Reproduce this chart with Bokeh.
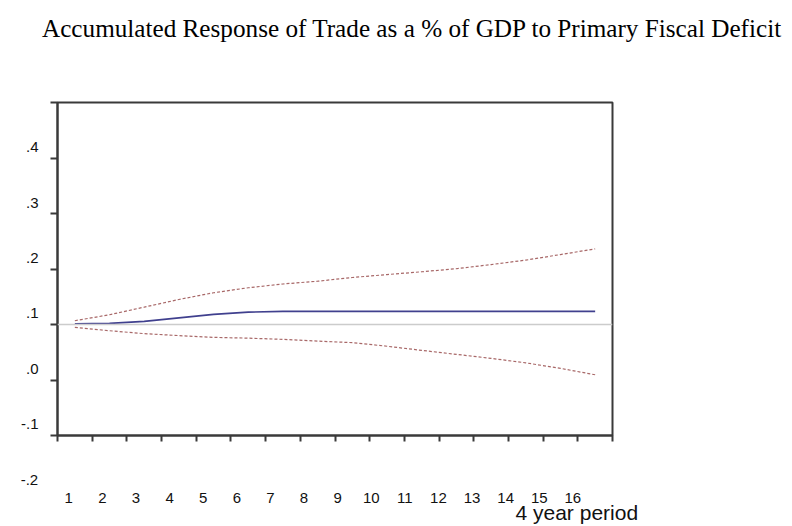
from bokeh.plotting import figure
from bokeh.models import Range1d, FixedTicker, LinearAxis, Span, Title
from bokeh.embed import file_html
from bokeh.resources import INLINE

# ---- data ----
periods = list(range(1, 17))
response = [0.1014, 0.1020, 0.1056, 0.1119, 0.1182, 0.1223, 0.1236, 0.1236,
            0.1236, 0.1236, 0.1236, 0.1236, 0.1236, 0.1236, 0.1236, 0.1236]
upper = [0.1068, 0.1176, 0.1313, 0.1451, 0.1572, 0.1662, 0.1730, 0.1780,
         0.1847, 0.1900, 0.1950, 0.2005, 0.2080, 0.2160, 0.2260, 0.2363]
lower = [0.0948, 0.0888, 0.0835, 0.0800, 0.0768, 0.0754, 0.0732, 0.0701,
         0.0673, 0.0608, 0.0534, 0.0462, 0.0390, 0.0309, 0.0210, 0.0094]
y_tick_values = [-1, 0, 1, 2, 3, 4]
y_tick_labels = ["-.1", ".0", ".1", ".2", ".3", ".4"]
extra_y_label = "-.2"
x_axis_title = "4 year period"
title_text = "Accumulated Response of Trade as a % of GDP to Primary Fiscal Deficit"
reference_level = 0.1

DARK = "#3a3a3a"
SANS = "Liberation Sans"
TXT = "#111111"

p = figure(width=792, height=526, output_backend="svg", toolbar_location=None,
           x_range=Range1d(0.5, 16.5), y_range=Range1d(-0.1, 0.5),
           min_border_left=57, min_border_right=180,
           min_border_top=102, min_border_bottom=91,
           background_fill_color="white", border_fill_color="white")

p.extra_x_ranges = {"xlab": Range1d(0.664, 17.18)}
p.extra_y_ranges = {"ylab": Range1d(-1.204, 4.807)}

p.grid.visible = False
p.outline_line_color = DARK
p.outline_line_width = 2

# default axes (grab them before anything else is added)
xa = p.below[0]
ya = p.left[0]


def spacer(size):
    return LinearAxis(ticker=FixedTicker(ticks=[1]), major_tick_in=0,
                      major_tick_out=size, major_tick_line_color=None,
                      minor_tick_out=0, minor_tick_line_color=None,
                      axis_line_color=None, major_label_standoff=0,
                      major_label_overrides={1: ""},
                      major_label_text_font_size="0px")


# main axes: tick marks only
tick_x = [0.5 + i for i in range(17)]
xa.ticker = FixedTicker(ticks=tick_x)
xa.major_label_overrides = {t: "" for t in tick_x}
xa.major_label_text_font_size = "0px"
xa.major_label_standoff = 0
xa.major_tick_in = 0
xa.major_tick_out = 6
xa.major_tick_line_width = 2
xa.major_tick_line_color = DARK
xa.minor_tick_line_color = None
xa.axis_line_color = DARK
xa.axis_line_width = 2

tick_y = [-0.1, 0.0, 0.1, 0.2, 0.3, 0.4, 0.5]
ya.ticker = FixedTicker(ticks=tick_y)
ya.major_label_overrides = {t: "" for t in tick_y}
ya.major_label_text_font_size = "0px"
ya.major_label_standoff = 0
ya.major_tick_in = 0
ya.major_tick_out = 7
ya.major_tick_line_width = 2
ya.major_tick_line_color = DARK
ya.minor_tick_line_color = None
ya.axis_line_color = DARK
ya.axis_line_width = 2

# title (a spacer keeps it up at the top of the page)
p.add_layout(spacer(61), "above")
p.title.text = title_text
p.title.text_font = "Liberation Serif"
p.title.text_font_size = "25.2px"
p.title.text_font_style = "normal"
p.title.text_color = "black"
p.title.align = "left"
p.title.offset = -15.5
p.title.standoff = 0

# y tick labels (offset from tick marks, as in the reference)
ylab = LinearAxis(y_range_name="ylab", ticker=FixedTicker(ticks=y_tick_values),
                  major_label_overrides=dict(zip(y_tick_values, y_tick_labels)),
                  major_tick_in=0, major_tick_out=0, minor_tick_line_color=None,
                  axis_line_color=None, major_label_standoff=12,
                  major_label_text_font=SANS, major_label_text_font_size="15px",
                  major_label_text_color=TXT)
p.add_layout(ylab, "left")

# below panel: spacer, "-.2", x tick labels, axis title
p.add_layout(spacer(33), "below")
p.add_layout(Title(text=extra_y_label, align="left", offset=-36.8,
                   vertical_align="top", standoff=0,
                   text_font=SANS, text_font_size="15px",
                   text_font_style="normal", text_color=TXT), "below")

xlab = LinearAxis(x_range_name="xlab", ticker=FixedTicker(ticks=periods),
                  major_tick_in=0, major_tick_out=0, minor_tick_line_color=None,
                  axis_line_color=None, major_label_standoff=6,
                  major_label_text_font=SANS, major_label_text_font_size="15px",
                  major_label_text_color=TXT)
p.add_layout(xlab, "below")

p.add_layout(Title(text=x_axis_title, align="left", offset=458,
                   vertical_align="top", standoff=-9,
                   text_font=SANS, text_font_size="21px",
                   text_font_style="normal", text_color=TXT), "below")

# reference line
p.add_layout(Span(location=reference_level, dimension="width",
                  line_color="#cccccc", line_width=1.5))

# series
p.line(periods, upper, line_color="#a86868", line_width=1.2, line_dash="3 2")
p.line(periods, lower, line_color="#a86868", line_width=1.2, line_dash="3 2")
p.line(periods, response, line_color="#40408e", line_width=1.6)

open("out.html", "w").write(file_html(p, INLINE))
